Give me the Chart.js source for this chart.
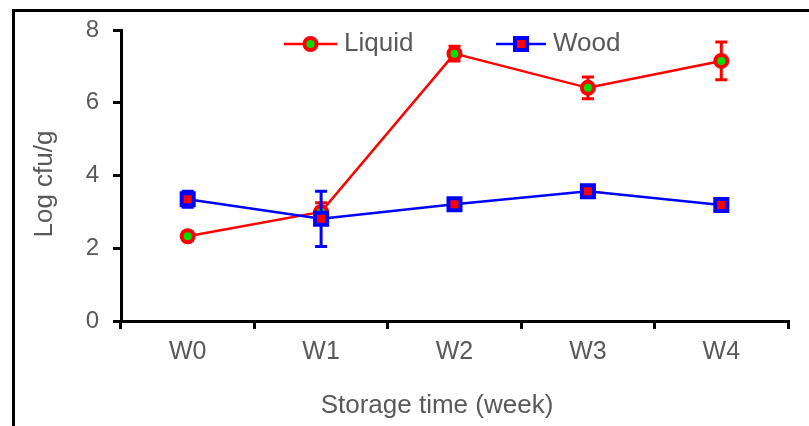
<!DOCTYPE html>
<html>
<head>
<meta charset="utf-8">
<script src="https://cdn.jsdelivr.net/npm/chart.js@4/dist/chart.umd.min.js"></script>
<style>
  html, body { margin: 0; padding: 0; background: #fff; overflow: hidden; }
  #frame { position: absolute; left: 12px; top: 9px; width: 900px; height: 500px;
           border-left: 3px solid #000; border-top: 3px solid #000; }
  #chart { position: absolute; left: 0; top: 0; }
</style>
</head>
<body>
<div id="frame"></div>
<canvas id="chart" width="809" height="426"></canvas>
<script>
let weeks = ['W0', 'W1', 'W2', 'W3', 'W4'];
let liquid = [2.33, 3.0, 7.35, 6.41, 7.15];
let liquidErr = [0.12, 0.25, 0.2, 0.3, 0.52];
let wood = [3.35, 2.81, 3.21, 3.57, 3.19];
let woodErr = [0.22, 0.76, 0.12, 0.12, 0.18];
let errs = { Liquid: liquidErr, Wood: woodErr };

let grey = '#595959';
let family = 'Liberation Sans, Arial, sans-serif';
let font = { family: family, size: 25 };

// error bars, drawn just under each series' own line and markers
let errorBars = {
    id: 'errorBars',
    beforeDatasetDraw(chart, args) {
        let ds = chart.data.datasets[args.index];
        let e = errs[ds.label];
        let ys = chart.scales.y, xs = chart.scales.x;
        let ctx = chart.ctx;
        ctx.save();
        ctx.strokeStyle = ds.borderColor;
        ctx.lineWidth = 3;
        ds.data.forEach((v, i) => {
            let x = xs.getPixelForValue(i);
            let y1 = ys.getPixelForValue(v + e[i]);
            let y2 = ys.getPixelForValue(v - e[i]);
            ctx.beginPath();
            ctx.moveTo(x, y1); ctx.lineTo(x, y2);
            ctx.moveTo(x - 6, y1); ctx.lineTo(x + 6, y1);
            ctx.moveTo(x - 6, y2); ctx.lineTo(x + 6, y2);
            ctx.stroke();
        });
        ctx.restore();
    }
};

// legend with line + marker, and the two axis titles
let extras = {
    id: 'extras',
    afterDraw(chart) {
        let ctx = chart.ctx;
        let items = [
            { ds: chart.data.datasets[0], x1: 284, x2: 337, tx: 344 },
            { ds: chart.data.datasets[1], x1: 496, x2: 546, tx: 553 }
        ];
        let ly = 44;
        ctx.save();
        items.forEach(it => {
            let ds = it.ds;
            ctx.strokeStyle = ds.borderColor;
            ctx.lineWidth = 2.5;
            ctx.beginPath();
            ctx.moveTo(it.x1, ly); ctx.lineTo(it.x2, ly);
            ctx.stroke();
            let cx = (it.x1 + it.x2) / 2;
            ctx.lineWidth = ds.pointBorderWidth;
            ctx.fillStyle = ds.pointBackgroundColor;
            ctx.strokeStyle = ds.pointBorderColor;
            ctx.beginPath();
            if (ds.pointStyle === 'circle') {
                ctx.arc(cx, ly, ds.pointRadius, 0, Math.PI * 2);
            } else {
                let s = ds.pointRadius * Math.SQRT1_2;
                ctx.rect(cx - s, ly - s, 2 * s, 2 * s);
            }
            ctx.fill();
            ctx.stroke();
            ctx.fillStyle = grey;
            ctx.font = '26px ' + family;
            ctx.textAlign = 'left';
            ctx.textBaseline = 'middle';
            ctx.fillText(ds.label, it.tx, ly);
        });
        ctx.fillStyle = grey;
        ctx.font = '26px ' + family;
        ctx.textAlign = 'center';
        ctx.textBaseline = 'middle';
        ctx.fillText('Storage time (week)', 437, 406);
        ctx.translate(45, 184);
        ctx.rotate(-Math.PI / 2);
        ctx.fillText('Log cfu/g', 0, 0);
        ctx.restore();
    }
};

let ctx = document.getElementById('chart').getContext('2d');
let chart = new Chart(ctx, {
    type: 'line',
    data: {
        labels: weeks,
        datasets: [{
            label: 'Liquid',
            data: liquid,
            borderColor: '#ff0000',
            borderWidth: 2.5,
            pointStyle: 'circle',
            pointRadius: 6,
            pointBorderWidth: 4,
            pointBackgroundColor: '#00e000',
            pointBorderColor: '#ff0000',
            order: 1
        }, {
            label: 'Wood',
            data: wood,
            borderColor: '#0000ff',
            borderWidth: 2.5,
            pointStyle: 'rect',
            pointRadius: 8.5,
            pointBorderWidth: 4,
            pointBackgroundColor: '#ff0000',
            pointBorderColor: '#0000ff',
            order: 0
        }]
    },
    options: {
        responsive: false,
        animation: false,
        layout: { padding: { left: 0, top: 30, right: 21, bottom: 0 } },
        plugins: {
            legend: { display: false },
            tooltip: { enabled: false }
        },
        scales: {
            x: {
                offset: true,
                grid: { offset: true, drawOnChartArea: false, color: '#000', lineWidth: 3, tickLength: 8 },
                border: { color: '#000', width: 3 },
                ticks: { color: grey, font: font, padding: 8 },
                afterFit: (s) => { s.height = 105; }
            },
            y: {
                min: 0,
                max: 8,
                ticks: { stepSize: 2, color: grey, font: { family: family, size: 24 }, padding: 14 },
                grid: { drawOnChartArea: false, color: '#000', lineWidth: 3, tickLength: 8 },
                border: { color: '#000', width: 3 },
                afterFit: (s) => { s.width = 121; }
            }
        }
    },
    plugins: [errorBars, extras]
});
</script>
</body>
</html>
